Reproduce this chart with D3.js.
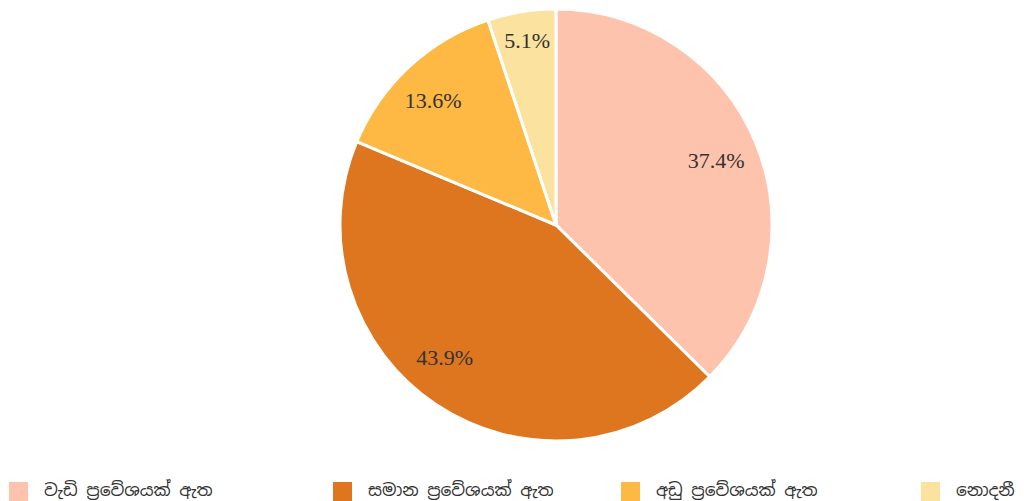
<!DOCTYPE html>
<html>
<head>
<meta charset="utf-8">
<script src="https://cdn.jsdelivr.net/npm/d3@7"></script>
<style>
    html, body { margin: 0; padding: 0; background: #ffffff; }
    svg { display: block; }
</style>
</head>
<body>
<div id="chart"></div>
<script>
const categories = ['වැඩි ප්‍රවේශයක් ඇත', 'සමාන ප්‍රවේශයක් ඇත', 'අඩු ප්‍රවේශයක් ඇත', 'නොදනී'];
const shares = [37.4, 43.9, 13.6, 5.1];
const colors = ['#FEC3AC', '#DE761F', '#FDB943', '#FBE29F'];

const width = 1024;
const height = 501;
const center = { x: 556, y: 225 };
const radius = 216;
// label placement tweaks (radius factor, angle shift in degrees) per slice
const labelRadius = [0.8, 0.8, 0.81, 0.865];
const labelShift = [0.6, 6.5, -1.8, 0.3];
const legendX = [9, 333, 621, 921];
const legendY = 482;

const svg = d3.select('#chart').append('svg')
    .attr('width', width)
    .attr('height', height);

const pieData = d3.pie()
    .sort(null)
    .value((datum) => datum.value)(categories.map((name, index) => ({ name, value: shares[index], color: colors[index] })));

const arc = d3.arc().innerRadius(0).outerRadius(radius);

function labelPosition(datum, index) {
    const angle = (datum.startAngle + datum.endAngle) / 2 + labelShift[index] * Math.PI / 180;
    const distance = radius * labelRadius[index];
    return [Math.sin(angle) * distance, -Math.cos(angle) * distance];
}

const pieGroup = svg.append('g')
    .attr('transform', `translate(${center.x},${center.y})`);

pieGroup.selectAll('.slice')
    .data(pieData)
    .enter()
    .append('path')
    .attr('class', 'slice')
    .attr('d', arc)
    .attr('fill', (datum) => datum.data.color)
    .attr('stroke', '#ffffff')
    .attr('stroke-width', 3)
    .attr('stroke-linejoin', 'round');

pieGroup.selectAll('.slice-label')
    .data(pieData)
    .enter()
    .append('text')
    .attr('class', 'slice-label')
    .attr('transform', (datum, index) => `translate(${labelPosition(datum, index)})`)
    .attr('text-anchor', 'middle')
    .attr('dominant-baseline', 'central')
    .attr('font-family', '"Liberation Serif", "Times New Roman", serif')
    .attr('font-size', 22)
    .attr('fill', '#333333')
    .text((datum) => `${datum.data.value.toFixed(1)}%`);

const legend = svg.append('g').attr('class', 'legend');

const items = legend.selectAll('.legend-item')
    .data(categories)
    .enter()
    .append('g')
    .attr('class', 'legend-item')
    .attr('transform', (datum, index) => `translate(${legendX[index]},${legendY})`);

items.append('rect')
    .attr('width', 19)
    .attr('height', 19)
    .attr('fill', (datum, index) => colors[index]);

items.append('text')
    .attr('x', 35)
    .attr('y', 8)
    .attr('dominant-baseline', 'central')
    .attr('font-family', '"Noto Sans Sinhala", "Noto Sans", sans-serif')
    .attr('font-size', 17)
    .attr('fill', '#333333')
    .text((datum) => datum);
</script>
</body>
</html>
